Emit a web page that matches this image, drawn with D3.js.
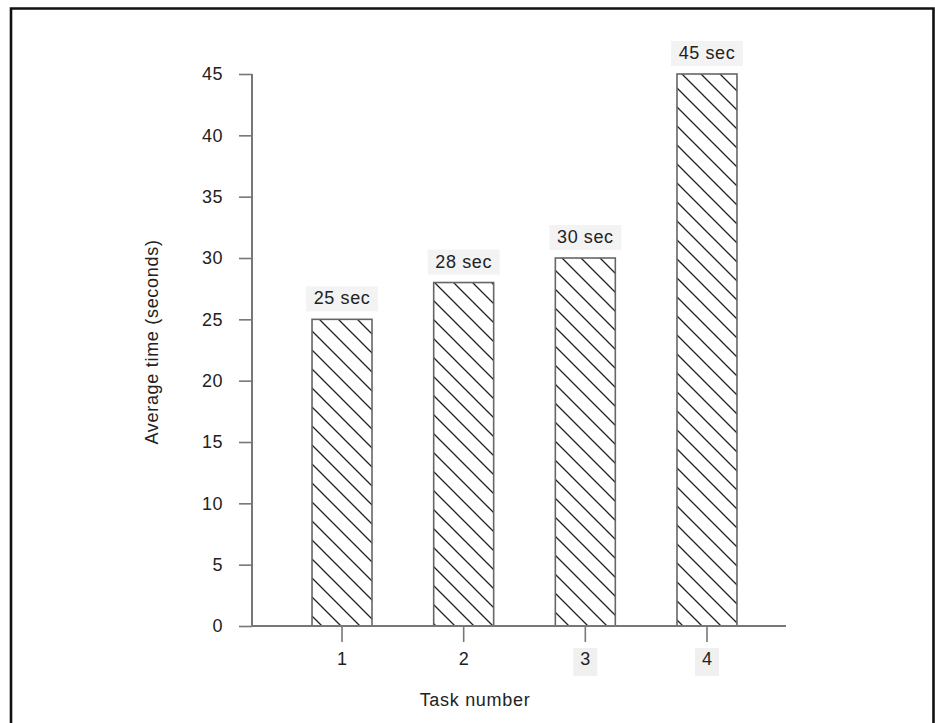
<!DOCTYPE html>
<html>
<head>
<meta charset="utf-8">
<script src="https://cdn.jsdelivr.net/npm/d3@7"></script>
<style>
  body { margin:0; background:#fff; }
  text { font-family: "Liberation Sans", Arial, Helvetica, sans-serif; fill:#222; }
</style>
</head>
<body>
<div id="plotarea"></div>
<script>
// data
var tasks = ["1", "2", "3", "4"];
var avgTimes = [25, 28, 30, 45];
var valueLabels = ["25 sec", "28 sec", "30 sec", "45 sec"];
var yTicks = [0, 5, 10, 15, 20, 25, 30, 35, 40, 45];

var W = 935, H = 723;
var axis_left = 252, axis_right = 786;
var axis_top = 74, axis_bottom = 626;
var fontSize = "18px";

var svg = d3.select("#plotarea").append("svg")
    .attr("width", W)
    .attr("height", H);

// hatch pattern for the bars
var defs = svg.append("defs");
var pat = defs.append("pattern")
    .attr("id", "hatch")
    .attr("patternUnits", "userSpaceOnUse")
    .attr("width", 19)
    .attr("height", 19);
pat.append("rect").attr("width", 19).attr("height", 19).attr("fill", "#fff");
pat.append("path")
    .attr("d", "M0,0 L19,19 M-6,13 L6,25 M13,-6 L25,6")
    .attr("stroke", "#222")
    .attr("stroke-width", 1.3);

// outer frame (top, left, right)
svg.append("path")
    .attr("d", "M11,723 L11,8.5 L933.5,8.5 L933.5,723")
    .attr("fill", "none")
    .attr("stroke", "#111")
    .attr("stroke-width", 2.6);

var y = d3.scaleLinear()
    .domain([0, 45])
    .range([axis_bottom, axis_top]);

var x = d3.scaleBand()
    .domain(tasks)
    .range([263, axis_right])
    .paddingInner(0.507)
    .paddingOuter(0.403);

// y axis
var gy = svg.append("g")
    .attr("transform", "translate(" + axis_left + ",0)")
    .call(d3.axisLeft(y).tickValues(yTicks).tickSize(13).tickPadding(16).tickSizeOuter(0));
gy.select(".domain").remove();
gy.selectAll(".tick line").attr("stroke", "#777").attr("stroke-width", 1.6);
gy.selectAll(".tick text").style("font-size", fontSize).style("letter-spacing", "0.5px").attr("fill", "#222");

// x axis
var gx = svg.append("g")
    .attr("transform", "translate(0," + axis_bottom + ")")
    .call(d3.axisBottom(x).tickSize(16).tickPadding(10).tickSizeOuter(0));
gx.select(".domain").remove();
gx.selectAll(".tick line").attr("stroke", "#777").attr("stroke-width", 1.6);
// faint scan boxes behind the last two tick labels
gx.selectAll(".tick").filter(function(d, i) { return i >= 2; })
    .insert("rect", "text")
    .attr("x", -12).attr("y", 22)
    .attr("width", 24).attr("height", 28)
    .attr("fill", "#f0f0f0");
gx.selectAll(".tick text").style("font-size", fontSize).attr("fill", "#222");

// bars
svg.selectAll(".bar")
    .data(avgTimes)
    .enter().append("rect")
    .attr("class", "bar")
    .attr("x", function(d, i) { return x(tasks[i]); })
    .attr("y", function(d) { return y(d); })
    .attr("width", x.bandwidth())
    .attr("height", function(d) { return axis_bottom - y(d); })
    .attr("fill", "url(#hatch)")
    .attr("stroke", "#666")
    .attr("stroke-width", 1.6);

// axis lines drawn over the bars
svg.append("line")
    .attr("x1", axis_left).attr("x2", axis_left)
    .attr("y1", axis_top).attr("y2", axis_bottom)
    .attr("stroke", "#777").attr("stroke-width", 2);
svg.append("line")
    .attr("x1", axis_left).attr("x2", axis_right)
    .attr("y1", axis_bottom).attr("y2", axis_bottom)
    .attr("stroke", "#777").attr("stroke-width", 2);

// value labels with their faint grey boxes
var lab = svg.selectAll(".vlabel")
    .data(avgTimes)
    .enter().append("g")
    .attr("class", "vlabel")
    .attr("transform", function(d, i) {
        return "translate(" + (x(tasks[i]) + x.bandwidth() / 2) + "," + (y(d) - 15) + ")";
    });
lab.append("rect")
    .attr("x", -36).attr("y", -18)
    .attr("width", 72).attr("height", 25)
    .attr("fill", "#f3f3f3");
lab.append("text")
    .attr("text-anchor", "middle")
    .style("font-size", fontSize)
    .style("letter-spacing", "0.6px")
    .text(function(d, i) { return valueLabels[i]; });

// axis titles
svg.append("text")
    .attr("transform", "translate(152,342) rotate(-90)")
    .attr("text-anchor", "middle")
    .attr("dy", "0.35em")
    .style("font-size", fontSize)
    .style("letter-spacing", "0.7px")
    .text("Average time (seconds)");

svg.append("text")
    .attr("x", 475)
    .attr("y", 706)
    .attr("text-anchor", "middle")
    .style("font-size", fontSize)
    .style("letter-spacing", "0.7px")
    .text("Task number");
</script>
</body>
</html>
